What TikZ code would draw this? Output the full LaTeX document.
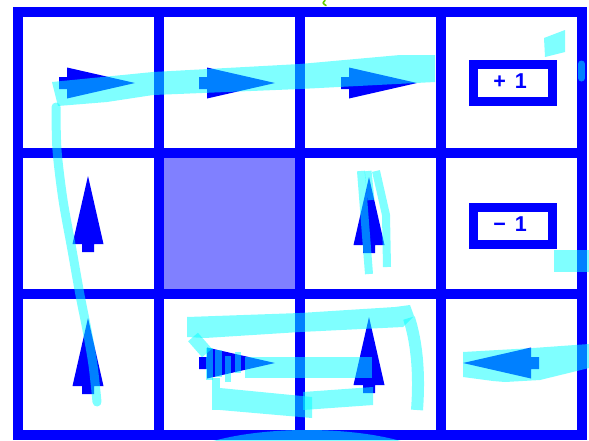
\documentclass[tikz,border=0pt]{standalone}
\usepackage{fontspec}
\setmainfont{Liberation Sans}
\definecolor{gridblue}{RGB}{0,0,255}
\definecolor{wallfill}{RGB}{128,128,255}
\definecolor{hl}{RGB}{0,255,255}
\definecolor{pen}{RGB}{102,204,0}
\tikzset{
  gridline/.style={draw=gridblue, line width=10pt},
  rewardbox/.style={draw=gridblue, line width=9pt, minimum width=79pt, minimum height=37pt,
    inner sep=0pt, font=\fontsize{21.5}{21.5}\selectfont\bfseries, text=gridblue,
    text height=16pt, text depth=5pt},
  hlfill/.style={fill=hl, fill opacity=0.5},
  hlstroke/.style={draw=hl, draw opacity=0.5},
  pics/policyarrow/.style={code={
    \fill[gridblue] (0,0)--(-68,-15.5)--(-68,-6)--(-76,-6)--(-76,6)--(-68,6)--(-68,15.5)--cycle;}}
}
\begin{document}
\begin{tikzpicture}[x=1pt,y=-1pt]
\useasboundingbox (0,0) rectangle (589,440);
% wall cell
\fill[wallfill] (158.5,153) rectangle (299.5,294);
% grid
\draw[gridline] (17.5,12) rectangle (581.5,435);
\foreach \gx in {158.5,299.5,440.5} \draw[gridline] (\gx,12) -- (\gx,435);
\foreach \gy in {153,294} \draw[gridline] (17.5,\gy) -- (581.5,\gy);
% rewards
\node[rewardbox] (plus) at (513,83) {+ \hspace{3pt}1\hspace*{6pt}};
\node[rewardbox] (minus) at (513,226) {\char"2212\ \hspace{3pt}1\hspace*{6pt}};
% policy arrows
\pic at (135,83) {policyarrow};
\pic at (275,83) {policyarrow};
\pic at (417,83) {policyarrow};
\pic[rotate=90] at (88,176) {policyarrow};
\pic[rotate=90] at (369,177) {policyarrow};
\pic[rotate=90] at (88,318) {policyarrow};
\pic at (275,363) {policyarrow};
\pic[rotate=90] at (369,317) {policyarrow};
\pic[rotate=180] at (463,363) {policyarrow};
% highlighter strokes
\fill[hlfill] (52,82)--(153,72)--(300,64)--(400,55)--(435,55)--(435,82)--(300,89)--(153,95)--(107,102)--(58,106)--cycle;
\draw[hlstroke, line width=9pt, line cap=round] plot[smooth] coordinates {(56,107) (57,150) (63,200) (72,250) (80,295) (87,330) (93,365) (97,402)};
\fill[hlfill] (544,38)--(565,30)--(565,52)--(545,57)--cycle;
\draw[hlstroke, line width=7pt, line cap=round] (581.5,64) -- (581.5,78);
\draw[hlstroke, line width=8pt] (361,171) -- (369,274);
\draw[hlstroke, line width=8pt] (376,171) -- (386,215) -- (387,267);
\draw[hlstroke, line width=7pt] (368,171) -- (371,200);
\fill[hlfill] (554,250) rectangle (589,272);
\fill[hlfill] (463,352)--(533,348)--(589,344)--(589,368)--(540,380)--(505,382)--(493,381)--(463,377)--cycle;
% bottom row scribble
\fill[hlfill] (187,317)--(300,313)--(395,307)--(410,305)--(414,316)--(403,327)--(300,332)--(205,338)--(187,337)--cycle;
\draw[hlstroke, line width=12pt] (409,318) .. controls (416,340) and (420,370) .. (417,410);
\draw[hlstroke, line width=13pt] (193,337) -- (207,353);
\draw[hlstroke, line width=7pt] (209,348) -- (209,380);
\draw[hlstroke, line width=7pt] (218,350) -- (218,377);
\draw[hlstroke, line width=6pt] (228,356) -- (228,382);
\draw[hlstroke, line width=6pt] (238,352) -- (238,373);
\draw[hlstroke, line width=8pt] (216,378) -- (216,410);
\fill[hlfill] (245,357) rectangle (372,378);
\fill[hlfill] (220,388)--(312,397)--(312,418)--(220,410)--cycle;
\fill[hlfill] (303,392)--(373,387)--(373,405)--(303,410)--cycle;
% bottom blob
\begin{scope}
  \clip (0,0) rectangle (589,440);
  \fill[hlfill] (307,470) ellipse [x radius=136pt, y radius=40pt];
\end{scope}
% pen mark
\draw[draw=pen, line width=1.6pt, line cap=round] (325,0.5) .. controls (322.5,3) .. (326,5.5);
\end{tikzpicture}
\end{document}
